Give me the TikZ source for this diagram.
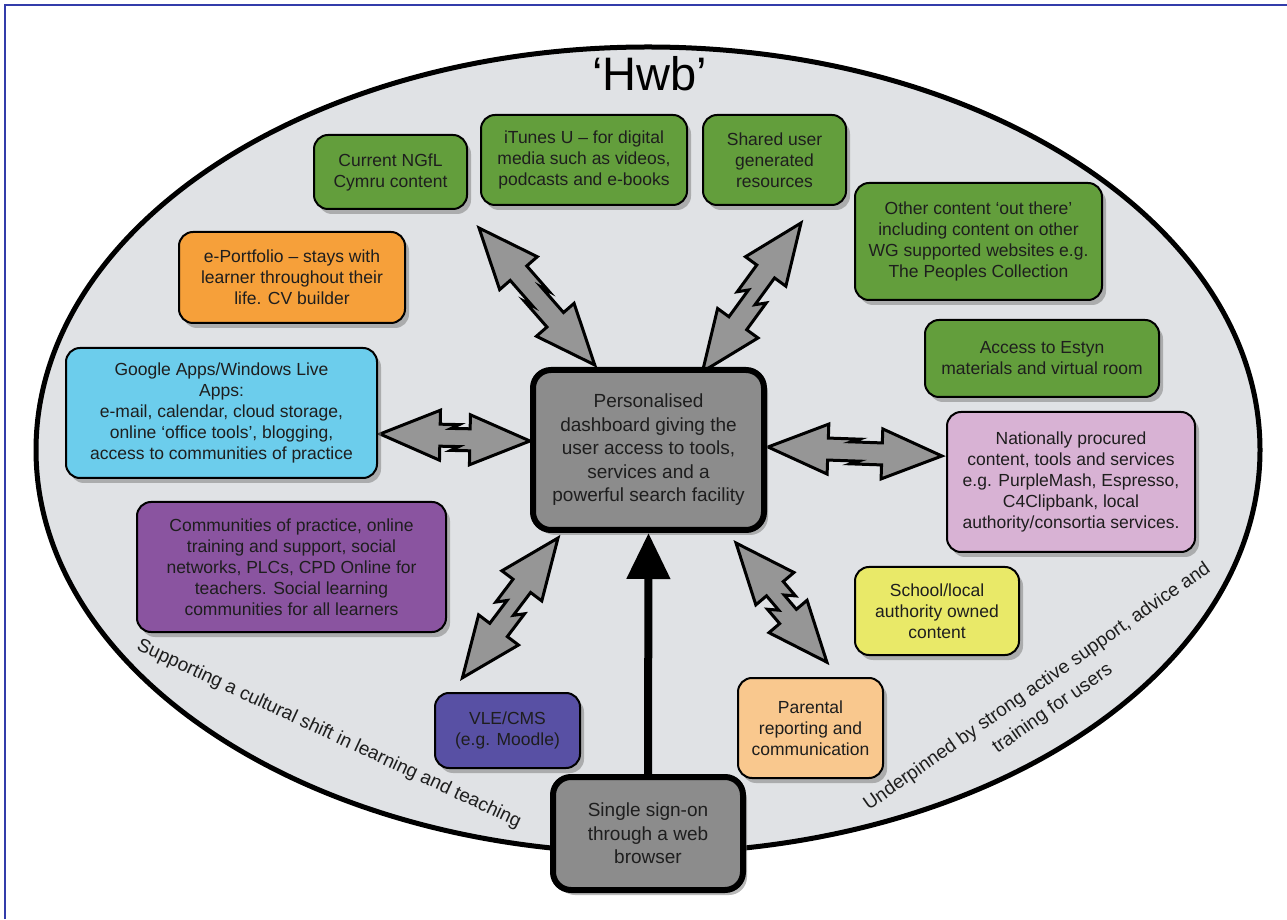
\documentclass[tikz,border=0pt]{standalone}
\usepackage{fontspec}
\setmainfont{Liberation Sans}
\usepackage{tikz}
\usetikzlibrary{calc,shadows,arrows.meta}
\definecolor{hwbgreen}{RGB}{99,158,60}
\definecolor{hwborange}{RGB}{246,160,58}
\definecolor{hwbsky}{RGB}{108,205,236}
\definecolor{hwbpurple}{RGB}{138,84,160}
\definecolor{hwbindigo}{RGB}{88,80,164}
\definecolor{hwbpink}{RGB}{216,178,212}
\definecolor{hwbyellow}{RGB}{233,233,104}
\definecolor{hwbpeach}{RGB}{249,200,142}
\definecolor{hwbgray}{RGB}{140,140,140}
\definecolor{hwbback}{RGB}{224,226,229}
\definecolor{arrowgray}{RGB}{150,150,150}
\definecolor{frameblue}{RGB}{50,60,170}
\definecolor{textdark}{RGB}{30,30,30}
\newcommand{\boxfont}{\fontsize{17.5}{21}\selectfont}
\newcommand{\hubfont}{\fontsize{19}{23.5}\selectfont}
\newcommand{\curvefont}{\fontsize{19}{27}\selectfont}
\tikzset{hwbbox/.style={draw,rectangle,rounded corners=14pt,line width=2pt,
           align=center,text=textdark,font=\boxfont,inner sep=0pt,
           drop shadow={shadow xshift=4pt,shadow yshift=-5pt,opacity=.55}},
         hubbox/.style={hwbbox,line width=6pt,rounded corners=18pt,
           fill=hwbgray,font=\hubfont},
         zigstyle/.style={draw=black,fill=arrowgray,line width=3pt,line join=miter},
         ssoline/.style={line width=8pt,-{Triangle[width=42pt,length=46pt]}},
         hwbring/.style={draw=black,fill=hwbback,line width=5pt},
         rimtext/.style={font=\curvefont,text=textdark,align=center,inner sep=0pt}}
% double block arrow with a zigzag in the middle: start, end, jog
\newcommand{\zigarrow}[3]{%
  \draw[zigstyle] let \p1=(#1), \p2=(#2), \n1={atan2(\y2-\y1,\x2-\x1)},
    \n2={veclen(\x2-\x1,\y2-\y1)} in [shift={(\p1)}, rotate=\n1]
    (0,0) -- (60,25) -- (60,11) -- ({\n2/2+4},11) -- ({\n2/2-4},{11+#3})
    -- ({\n2-60},{11+#3}) -- ({\n2-60},{25+#3}) -- (\n2,#3)
    -- ({\n2-60},{-25+#3}) -- ({\n2-60},{-11+#3}) -- ({\n2/2-4},{-11+#3})
    -- ({\n2/2+4},-11) -- (60,-11) -- (60,-25) -- cycle;}

\begin{document}
\begin{tikzpicture}[x=1pt,y=1pt]
    \useasboundingbox (0,0) rectangle (1287,919);
    \draw[frameblue, line width=1.5pt] (5,0) -- (5,914) -- (1287,914);
    \draw[hwbring] (648,469) ellipse [x radius=612, y radius=403];

    \node[text=black, font=\fontsize{47}{50}\selectfont] (hwb) at (650,845) {‘Hwb’};

    \coordinate (a1s) at (479,691); \coordinate (a1e) at (597,556);
    \coordinate (a2s) at (801,696); \coordinate (a2e) at (696,552);
    \coordinate (a3s) at (380,485); \coordinate (a3e) at (530,482);
    \coordinate (a4s) at (768,472); \coordinate (a4e) at (942,466);
    \coordinate (a5s) at (558,381); \coordinate (a5e) at (456,246);
    \coordinate (a6s) at (736,376); \coordinate (a6e) at (833,262);

    \zigarrow{a1s}{a1e}{-3} \zigarrow{a2s}{a2e}{8} \zigarrow{a3s}{a3e}{-4}
    \zigarrow{a4s}{a4e}{-3} \zigarrow{a5s}{a5e}{8} \zigarrow{a6s}{a6e}{-8}

    \node[hwbbox, fill=hwbgreen, minimum width=153, minimum height=74] (ngfl)
    at (390.5,747) {Current NGfL\\Cymru content};
    \node[hwbbox, fill=hwbgreen, minimum width=206, minimum height=90] (itunes)
    at (584,759) {iTunes U -- for digital\\media such as videos,\\podcasts and e-books};
    \node[hwbbox, fill=hwbgreen, minimum width=143, minimum height=90] (shared)
    at (774.5,759) {Shared user\\generated\\resources};
    \node[hwbbox, fill=hwbgreen, minimum width=247, minimum height=117] (other)
    at (978.5,677.5) {Other content ‘out there’\\including content on other\\WG supported websites e.g.\\The Peoples Collection};
    \node[hwbbox, fill=hwbgreen, minimum width=234, minimum height=77] (estyn)
    at (1042,560.5) {Access to Estyn\\materials and virtual room};
    \node[hwbbox, fill=hwbpink, minimum width=248, minimum height=140] (natl)
    at (1071,437) {Nationally procured\\content, tools and services\\e.g. PurpleMash, Espresso,\\C4Clipbank, local\\authority/consortia services.};
    \node[hwbbox, fill=hwbyellow, minimum width=164, minimum height=88] (school)
    at (937,308) {School/local\\authority owned\\content};
    \node[hwbbox, fill=hwbpeach, minimum width=145, minimum height=100] (parent)
    at (810.5,191) {Parental\\reporting and\\communication};
    \node[hwbbox, fill=hwbindigo, minimum width=145, minimum height=75] (vle)
    at (507.5,188.5) {VLE/CMS\\(e.g. Moodle)};
    \node[hwbbox, fill=hwbpurple, minimum width=309, minimum height=130] (comm)
    at (291.5,352) {Communities of practice, online\\training and support, social\\networks, PLCs, CPD Online for\\teachers. Social learning\\communities for all learners};
    \node[hwbbox, fill=hwbsky, minimum width=311, minimum height=130] (google)
    at (221.5,506) {Google Apps/Windows Live\\Apps:\\e-mail, calendar, cloud storage,\\online ‘office tools’, blogging,\\access to communities of practice};
    \node[hwbbox, fill=hwborange, minimum width=226, minimum height=91] (portfolio)
    at (292,641.5) {e-Portfolio -- stays with\\learner throughout their\\life. CV builder};

    \node[hubbox, minimum width=231, minimum height=160] (dash)
    at (648.5,469) {Personalised\\dashboard giving the\\user access to tools,\\services and a\\powerful search facility};
    \node[hubbox, minimum width=190, minimum height=113] (sso)
    at (648,85.5) {Single sign-on\\through a web\\browser};

    \draw[ssoline] (sso.north) -- (dash.south);

    \node[rimtext, rotate=-25] (culture) at (329,185)
    {Supporting a cultural shift in learning and teaching};
    \node[rimtext, rotate=35] (support) at (1045,221)
    {Underpinned by strong active support, advice and\\training for users};
\end{tikzpicture}
\end{document}
